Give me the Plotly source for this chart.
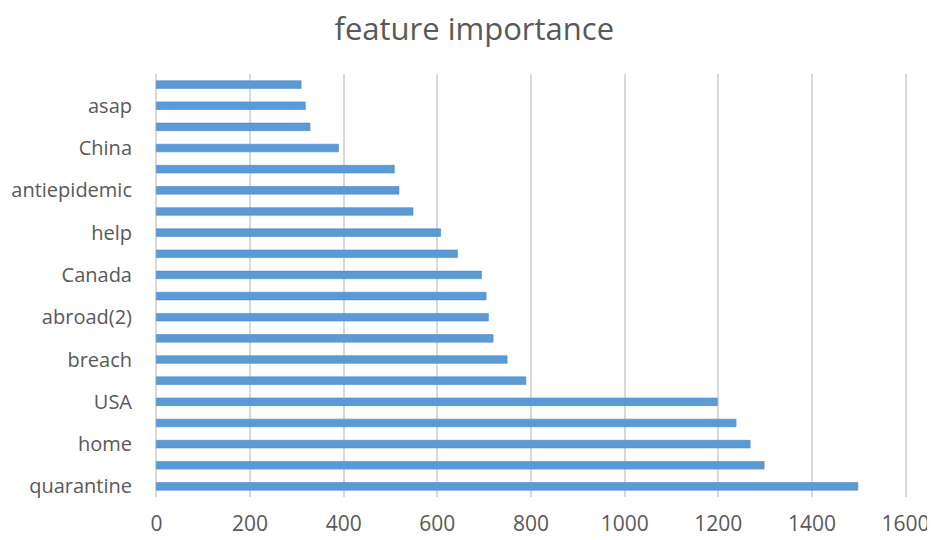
import plotly.graph_objects as go

# bars listed bottom to top
labels = ["quarantine", "", "home", "", "USA", "", "breach", "", "abroad(2)", "",
          "Canada", "", "help", "", "antiepidemic", "", "China", "", "asap", ""]
values = [1498, 1298, 1268, 1238, 1198, 789, 749, 719, 709, 704,
          694, 643, 607, 548, 518, 508, 389, 328, 318, 309]
positions = list(range(1, len(values) + 1))
tick_vals = [p for p, l in zip(positions, labels) if l]
tick_text = [l for l in labels if l]
x_ticks = [0, 200, 400, 600, 800, 1000, 1200, 1400, 1600]

fig = go.Figure(go.Bar(
    x=values, y=positions, orientation="h",
    marker=dict(color="#5B9BD5", line=dict(color="#4A88C9", width=0.6)),
    width=0.36,
))

# page body has an 8px margin, so the figure is sized to fit the 935x540 window
fig.update_layout(
    width=927, height=532,
    margin=dict(l=147, r=28, t=66, b=43, autoexpand=False),
    paper_bgcolor="white", plot_bgcolor="white",
    font=dict(family="Open Sans", color="#595959", size=20),
    title=dict(text="feature importance", x=0.503, xanchor="center", y=0.96, yanchor="middle",
               font=dict(size=31, color="#595959")),
    showlegend=False,
)
fig.update_xaxes(range=[-3, 1603], tickvals=x_ticks, showgrid=True, gridcolor="#D9D9D9",
                 gridwidth=1.5, zeroline=False, showline=False, ticks="",
                 automargin=False, ticklabelstandoff=12, tickfont=dict(size=21))
fig.update_yaxes(range=[0.5, 20.5], tickvals=tick_vals, ticktext=tick_text,
                 showgrid=False, zeroline=False, showline=False, ticks="",
                 automargin=False, ticklabelstandoff=22, tickfont=dict(size=20))

fig.write_html("out.html")
